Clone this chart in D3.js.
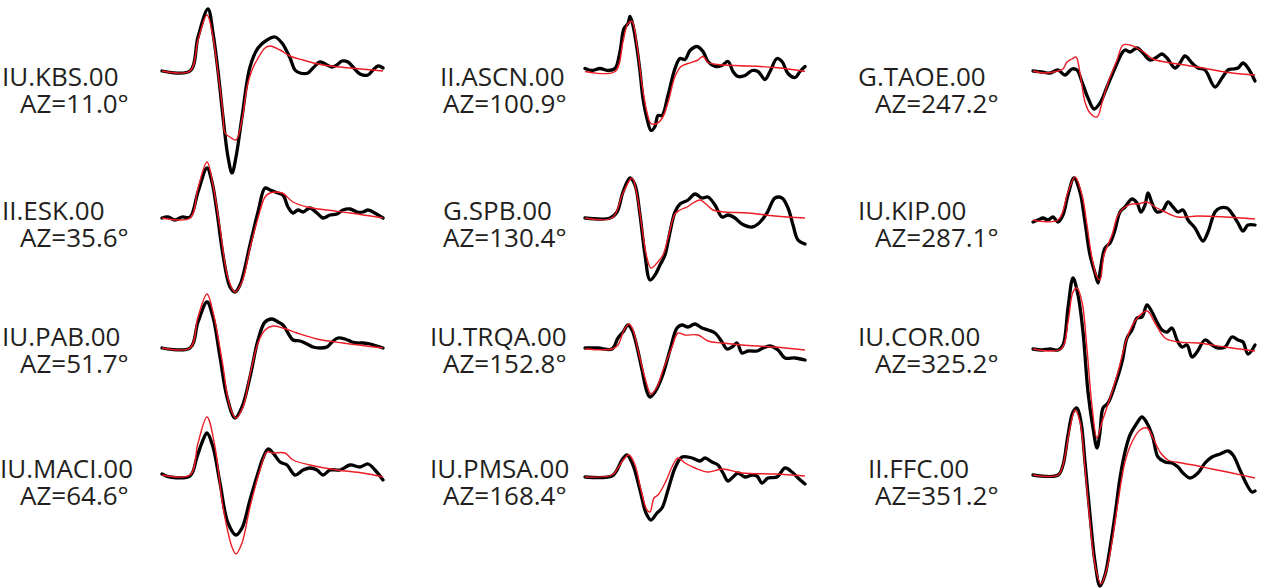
<!DOCTYPE html>
<html lang="en">
<head>
    <meta charset="UTF-8">
    <title>Waveform fits</title>
    <script src="https://d3js.org/d3.v7.min.js"></script>
    <style>
        body { margin: 0; background: #fff; }
        .name, .az { font-family: "Open Sans", "Noto Sans", sans-serif; font-size: 26px; fill: #231f20; }
        .obs { fill: none; stroke: #000; stroke-width: 3.3; stroke-linejoin: round; stroke-linecap: round; }
        .syn { fill: none; stroke: #ed1c24; stroke-width: 1.4; stroke-linejoin: round; }
    </style>
</head>
<body>
<svg width="1267" height="588"></svg>
<script>
// stations, column by column (azimuth order)
const stations = ["IU.KBS.00", "II.ESK.00", "IU.PAB.00", "IU.MACI.00",
                  "II.ASCN.00", "G.SPB.00", "IU.TRQA.00", "IU.PMSA.00",
                  "G.TAOE.00", "IU.KIP.00", "IU.COR.00", "II.FFC.00"];
const azimuths = [11.0, 35.6, 51.7, 64.6, 100.9, 130.4, 152.8, 168.4, 247.2, 287.1, 325.2, 351.2];

const obsKBS = [[0,0],[28,0],[36,34],[46,62],[51,38],[56,0],[61,-46],[66,-86],[70,-102],[74,-86],[80,-46],[88,4],[96,23],[105,31],[113,34],[120,28],[128,13],[133,1],[138,-2],[146,-2],[151,3],[158,9],[165,6],[170,4],[175,6],[180,10],[186,9],[191,4],[198,-3],[206,-4],[211,1],[216,5],[221,3]];
const synKBS = [[0,0],[28,0],[36,31],[45,56],[51,34],[56,-2],[61,-42],[63,-62],[68,-66],[74,-69],[80,-49],[85,-16],[90,1],[95,11],[103,23],[108,25],[118,21],[128,15],[141,11],[161,6],[188,3],[221,0]];

const obsESK = [[0,0],[6,1],[13,-2],[20,1],[28,1],[36,26],[45,50],[50,36],[55,6],[61,-37],[68,-69],[73,-74],[78,-67],[88,-27],[96,6],[103,30],[108,28],[116,25],[121,23],[126,11],[131,5],[136,8],[141,6],[148,10],[155,5],[161,0],[168,3],[175,4],[181,8],[188,9],[195,6],[201,6],[206,8],[211,6],[221,0]];
const synESK = [[0,0],[28,0],[36,30],[45,56],[51,33],[58,-10],[66,-60],[73,-74],[80,-64],[88,-30],[96,0],[103,21],[108,25],[120,25],[131,16],[145,11],[165,8],[188,5],[221,0]];

const obsPAB = [[0,0],[28,0],[36,26],[45,46],[51,31],[58,-9],[65,-49],[73,-70],[80,-59],[88,-29],[96,8],[103,26],[110,29],[116,26],[121,23],[126,15],[131,8],[138,7],[145,4],[151,1],[158,0],[165,1],[170,6],[176,10],[183,9],[190,6],[195,5],[201,5],[208,4],[221,0]];
const synPAB = [[0,0],[28,0],[36,31],[45,54],[51,36],[60,-12],[68,-59],[74,-70],[81,-59],[88,-27],[96,5],[103,18],[111,22],[121,20],[135,15],[155,9],[181,5],[221,0]];

const obsMACI = [[0,1],[8,-2],[28,-1],[35,18],[41,35],[45,42],[51,28],[58,-8],[66,-48],[74,-60],[80,-53],[88,-25],[96,2],[101,17],[106,26],[111,22],[118,13],[125,10],[133,0],[141,5],[148,7],[155,5],[161,0],[168,5],[178,5],[188,10],[198,8],[206,11],[213,5],[221,-5]];
const synMACI = [[0,0],[28,0],[36,32],[45,58],[53,28],[61,-32],[70,-72],[74,-79],[80,-68],[88,-32],[98,5],[105,23],[111,22],[123,22],[131,15],[148,10],[175,5],[201,2],[221,-2]];

const obsASCN = [[0,2],[7,0],[15,2],[23,0],[30,2],[35,19],[39,42],[43,47],[45,54],[48,45],[52,22],[55,-1],[58,-28],[62,-48],[66,-60],[70,-56],[73,-45],[77,-45],[83,-25],[90,2],[95,12],[100,11],[105,20],[112,24],[118,19],[123,9],[130,4],[137,5],[143,9],[148,-1],[153,-6],[160,-5],[167,0],[173,-1],[180,-9],[185,-1],[192,12],[197,9],[203,-3],[210,-7],[215,-1],[220,4]];
const synASCN = [[0,-1],[30,-1],[38,29],[43,47],[47,49],[52,25],[57,-14],[62,-42],[66,-53],[72,-53],[77,-48],[83,-32],[90,-6],[96,4],[103,7],[112,10],[118,14],[123,8],[133,6],[150,5],[190,3],[220,-1]];

const obsSPB = [[0,0],[25,0],[32,6],[38,26],[45,40],[50,33],[55,3],[60,-37],[65,-62],[70,-57],[75,-47],[80,-37],[85,-14],[90,6],[95,14],[103,18],[110,24],[117,20],[123,21],[130,13],[137,1],[143,3],[150,0],[157,-6],[167,-9],[173,-6],[182,5],[190,20],[197,20],[203,10],[208,-7],[213,-22],[220,-26]];
const synSPB = [[0,0],[27,0],[38,25],[47,40],[52,23],[57,-10],[62,-40],[66,-50],[72,-45],[78,-37],[83,-20],[90,4],[95,8],[102,11],[108,15],[115,18],[122,13],[128,8],[140,6],[163,5],[190,2],[220,0]];

const obsTRQA = [[0,1],[13,1],[27,0],[33,11],[38,17],[43,24],[47,19],[52,2],[57,-21],[62,-43],[65,-48],[70,-43],[77,-28],[85,-1],[92,21],[97,24],[103,22],[110,25],[117,21],[123,19],[130,16],[137,7],[142,0],[147,2],[152,6],[157,-4],[163,-2],[172,-2],[178,1],[185,3],[193,-1],[200,-9],[210,-9],[220,-11]];
const synTRQA = [[0,0],[27,0],[33,4],[39,19],[44,25],[48,19],[53,-1],[60,-29],[66,-45],[72,-38],[78,-21],[87,2],[93,16],[100,14],[113,14],[123,8],[137,6],[157,4],[190,2],[220,-1]];

const obsPMSA = [[0,0],[27,1],[32,7],[37,17],[42,22],[48,12],[55,-13],[61,-36],[66,-43],[72,-36],[77,-31],[83,-13],[90,9],[97,20],[107,19],[115,16],[120,19],[127,15],[133,12],[138,4],[143,-4],[148,0],[153,4],[160,0],[167,2],[172,1],[177,-6],[183,-1],[192,0],[200,9],[207,5],[213,-1],[220,-7]];
const synPMSA = [[0,0],[27,2],[33,9],[38,17],[44,22],[50,12],[56,-13],[62,-33],[65,-35],[69,-21],[73,-18],[80,-6],[88,12],[93,19],[100,14],[110,9],[123,5],[137,8],[157,4],[190,3],[220,1]];

const obsTAOE = [[0,0],[9,-1],[17,-2],[25,1],[32,-4],[39,2],[44,1],[49,-11],[55,-27],[61,-38],[67,-32],[74,-16],[82,3],[89,18],[92,21],[97,19],[104,23],[110,18],[117,11],[124,14],[129,17],[134,13],[142,3],[147,8],[152,15],[159,8],[165,3],[172,1],[182,-16],[189,-7],[195,1],[200,2],[205,3],[210,8],[215,3],[222,-10]];
const synTAOE = [[0,0],[12,-2],[25,0],[30,2],[34,9],[39,12],[43,14],[47,-2],[52,-31],[57,-42],[64,-46],[69,-32],[75,-12],[84,11],[90,26],[97,26],[104,23],[112,18],[120,12],[132,9],[152,6],[175,2],[199,-2],[222,-4]];

const obsKIP = [[0,-2],[5,0],[10,2],[15,0],[20,3],[25,-2],[30,5],[35,25],[41,42],[47,28],[52,-2],[57,-35],[62,-53],[65,-63],[67,-52],[72,-28],[77,-23],[82,-10],[87,8],[92,13],[99,21],[104,17],[108,8],[112,15],[115,27],[119,17],[124,8],[130,10],[135,18],[140,13],[145,8],[150,10],[155,0],[162,-8],[170,-21],[175,-12],[182,8],[187,12],[194,12],[200,5],[205,-3],[210,-11],[215,-5],[222,-5]];
const synKIP = [[0,0],[25,0],[35,28],[42,43],[49,25],[54,-5],[59,-38],[64,-57],[67,-60],[71,-35],[79,-15],[85,5],[92,13],[99,16],[105,16],[114,18],[122,13],[132,8],[145,3],[165,4],[192,3],[222,1]];

const obsCOR = [[0,0],[9,-1],[17,0],[25,-1],[30,4],[35,41],[40,71],[45,54],[50,17],[55,-43],[60,-79],[64,-99],[67,-83],[70,-59],[75,-54],[82,-36],[89,-13],[94,11],[99,19],[104,31],[109,32],[114,44],[119,37],[124,27],[129,19],[134,17],[139,21],[144,9],[149,2],[154,4],[159,-8],[164,-3],[172,9],[179,4],[185,1],[192,2],[199,12],[205,9],[210,7],[215,-5],[222,4]];
const synCOR = [[0,0],[28,0],[35,27],[40,57],[44,61],[49,47],[54,0],[59,-57],[64,-89],[69,-73],[77,-49],[85,-23],[94,11],[102,28],[114,38],[122,26],[132,11],[145,7],[165,6],[192,2],[222,-2]];

const obsFFC = [[0,0],[25,0],[30,10],[35,40],[40,63],[44,67],[48,53],[52,13],[57,-40],[62,-87],[67,-111],[72,-100],[77,-73],[82,-40],[87,-3],[92,23],[97,40],[104,52],[109,58],[115,50],[120,37],[125,18],[132,13],[139,12],[145,8],[150,2],[157,-3],[165,2],[172,12],[179,18],[187,21],[195,24],[200,20],[207,5],[214,-10],[219,-17],[222,-16]];
const synFFC = [[0,0],[25,0],[30,10],[37,47],[42,65],[47,53],[52,7],[57,-47],[62,-90],[68,-109],[74,-93],[79,-67],[85,-27],[92,13],[99,33],[107,45],[114,47],[120,37],[127,23],[135,15],[149,12],[165,9],[179,6],[199,2],[222,-3]];

const observed  = [obsKBS, obsESK, obsPAB, obsMACI, obsASCN, obsSPB, obsTRQA, obsPMSA, obsTAOE, obsKIP, obsCOR, obsFFC];
const synthetic = [synKBS, synESK, synPAB, synMACI, synASCN, synSPB, synTRQA, synPMSA, synTAOE, synKIP, synCOR, synFFC];

// layout
const colLeft = [162, 585, 1033];
const traceWidth = 222;
const baseY = [[71, 218, 348, 475], [70.5, 218, 349, 477], [71, 220, 349, 475]];
const nameY = [86, 220, 346, 478];
const nameX = [[2, 2, 2, 0], [440, 443, 430, 430], [858, 858, 858, 868]];
const azX = [20, 443, 875];

const svg = d3.select("svg");
const line = d3.line()
    .x(d => d[0]).y(d => d[1])
    .curve(d3.curveCatmullRom.alpha(0.5));

stations.forEach((name, i) => {
    const col = Math.floor(i / 4), row = i % 4;
    const base = baseY[col][row];
    const x = d3.scaleLinear().domain([0, traceWidth]).range([colLeft[col], colLeft[col] + traceWidth]);
    const y = d3.scaleLinear().domain([-120, 120]).range([base + 120, base - 120]);
    const g = svg.append("g");

    g.append("path").attr("class", "obs")
        .attr("d", line(observed[i].map(d => [x(d[0]), y(d[1])])));
    g.append("path").attr("class", "syn")
        .attr("d", line(synthetic[i].map(d => [x(d[0]), y(d[1])])));

    g.append("text").attr("class", "name")
        .attr("x", nameX[col][row]).attr("y", nameY[row])
        .text(name);
    g.append("text").attr("class", "az")
        .attr("x", azX[col]).attr("y", nameY[row] + 27)
        .text("AZ=" + azimuths[i].toFixed(1) + "°");
});
</script>
</body>
</html>
